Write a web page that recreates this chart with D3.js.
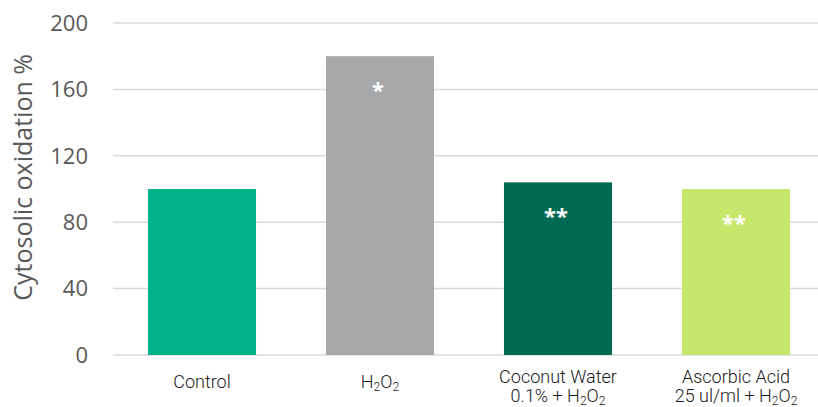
<!DOCTYPE html>
<meta charset="utf-8">
<script src="https://cdn.jsdelivr.net/npm/d3@7"></script>
<style>
body { margin: 0; background: #fff; }
.grid line { stroke: #d9d9d9; stroke-width: 1.5px; }
.ytick { fill: #595959; font: 22px "Open Sans", sans-serif; }
.ytitle { fill: #595959; font: 25px "Open Sans", sans-serif; }
.xlab { fill: #1a1a1a; font: 300 18px Roboto, sans-serif; }
.star { fill: #fff; font: bold 22px "Noto Sans", sans-serif; }
</style>
<body>
<script>

var categories = ["Control", "H2O2", "Coconut Water", "Ascorbic Acid"];
var values = [100, 180, 104, 100];
var stars = ["", "*", "**", "**"];
var colors = ["#00b388", "#a7a8aa", "#006a52", "#c5e76b"];
// label lines: [text, subscript?] pieces
var labelLines = [
  [[["Control", 0]]],
  [[["H", 0], ["2", 1], ["O", 0], ["2", 1]]],
  [[["Coconut Water", 0]], [["0.1% + H", 0], ["2", 1], ["O", 0], ["2", 1]]],
  [[["Ascorbic Acid", 0]], [["25 ul/ml + H", 0], ["2", 1], ["O", 0], ["2", 1]]]
];
var yTicks = [0, 40, 80, 120, 160, 200];

var width = 818, height = 407;

var svg = d3.select("body").append("svg")
    .attr("width", width)
    .attr("height", height);

var x = d3.scaleBand()
    .domain(categories)
    .range([113, 825])
    .paddingInner(0.393)
    .paddingOuter(0.1965);

var y = d3.scaleLinear()
    .domain([0, 200])
    .range([355, 23]);

// gridlines
svg.append("g").attr("class", "grid")
  .selectAll("line")
  .data(yTicks)
  .enter().append("line")
    .attr("x1", 113).attr("x2", width)
    .attr("y1", function(d) { return y(d); })
    .attr("y2", function(d) { return y(d); });

svg.append("g")
  .selectAll("text")
  .data(yTicks)
  .enter().append("text")
    .attr("class", "ytick")
    .attr("x", 88)
    .attr("y", function(d) { return y(d); })
    .attr("dy", "0.35em")
    .attr("text-anchor", "end")
    .text(function(d) { return d; });

svg.append("text")
    .attr("class", "ytitle")
    .attr("transform", "translate(32," + y(107) + ") rotate(-90)")
    .attr("text-anchor", "middle")
    .text("Cytosolic oxidation %");

// bars
svg.append("g")
  .selectAll("rect")
  .data(categories)
  .enter().append("rect")
    .attr("x", function(d) { return x(d); })
    .attr("width", x.bandwidth())
    .attr("y", function(d, i) { return y(values[i]); })
    .attr("height", function(d, i) { return y(0) - y(values[i]); })
    .style("fill", function(d, i) { return colors[i]; });

svg.append("g")
  .selectAll("text")
  .data(categories)
  .enter().append("text")
    .attr("class", "star")
    .attr("x", function(d) { return x(d) + x.bandwidth() / 2 - 2; })
    .attr("y", function(d, i) { return y(values[i]) + 42; })
    .attr("text-anchor", "middle")
    .text(function(d, i) { return stars[i]; });

// x labels
categories.forEach(function(c, i) {
  var lines = labelLines[i];
  var y0 = lines.length === 1 ? 388 : 383;
  lines.forEach(function(parts, j) {
    var t = svg.append("text")
        .attr("class", "xlab")
        .attr("x", x(c) + x.bandwidth() / 2)
        .attr("y", y0 + j * 19)
        .attr("text-anchor", "middle");
    parts.forEach(function(p) {
      var ts = t.append("tspan").text(p[0]);
      if (p[1]) ts.attr("font-size", "12px").attr("dy", "3");
      else if (t.selectAll("tspan").size() > 1) ts.attr("dy", "-3");
    });
  });
});

</script>
</body>
